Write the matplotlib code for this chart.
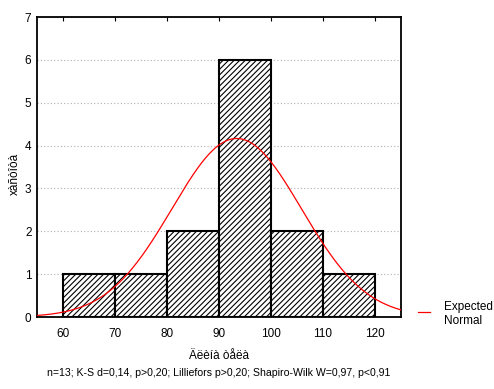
import numpy as np
import matplotlib
matplotlib.use("Agg")
import matplotlib.pyplot as plt
from matplotlib.lines import Line2D

plt.rcParams['font.family'] = ['Liberation Sans', 'DejaVu Sans']
plt.rcParams['hatch.linewidth'] = 0.8

bin_edges = [60, 70, 80, 90, 100, 110, 120]
counts = [1, 1, 2, 6, 2, 1]
n_obs = 13
mean_est = 93.4
sd_est = 12.45
bin_width = 10
xticks = [60, 70, 80, 90, 100, 110, 120]
yticks = [0, 1, 2, 3, 4, 5, 6, 7]

fig = plt.figure(figsize=(4.94, 3.89), dpi=100)
ax = fig.add_axes([37/494, 1-317/389, (401-37)/494, (317-17)/389])

left = bin_edges[:-1]
ax.bar(left, counts, width=bin_width, align='edge', facecolor='white',
       edgecolor='black', linewidth=1.5, hatch='//////', zorder=2)

xs = np.linspace(55, 125, 400)
ys = n_obs * bin_width / (sd_est * np.sqrt(2*np.pi)) * np.exp(-0.5*((xs-mean_est)/sd_est)**2)
line, = ax.plot(xs, ys, color='red', linewidth=0.9, zorder=3)

ax.set_xlim(55, 125)
ax.set_ylim(0, 7)
ax.set_xticks(xticks)
ax.set_yticks(yticks)
ax.yaxis.grid(True, linestyle=(0, (1, 2)), color='#b0b0b0', linewidth=0.8, zorder=0)
ax.set_axisbelow(True)
ax.tick_params(axis='x', which='both', direction='in', top=True, bottom=False, length=3, labelsize=8.5, pad=8)
ax.tick_params(axis='y', which='both', left=False, length=0, labelsize=8.5, pad=4)
for s in ax.spines.values():
    s.set_linewidth(1.3)

ax.set_xlabel('Äëèíà òåëà', fontsize=8.5, labelpad=7)
ax.set_ylabel('xàñòîòà', fontsize=8.5)
ax.yaxis.set_label_coords((21-37)/364, (317-174)/300)
fig.text(219/494, 1-373/389, 'n=13; K-S d=0,14, p>0,20; Lilliefors p>0,20; Shapiro-Wilk W=0,97, p<0,91',
         ha='center', va='center', fontsize=7.6)

# legend (manual placement)
fig.add_artist(Line2D([418/494, 430/494], [1-312/389, 1-312/389], color='red', linewidth=0.9))
fig.text(444/494, 1-314/389, 'Expected\nNormal', ha='left', va='center', fontsize=8.5, linespacing=1.15)

fig.savefig('out.png', dpi=100)
